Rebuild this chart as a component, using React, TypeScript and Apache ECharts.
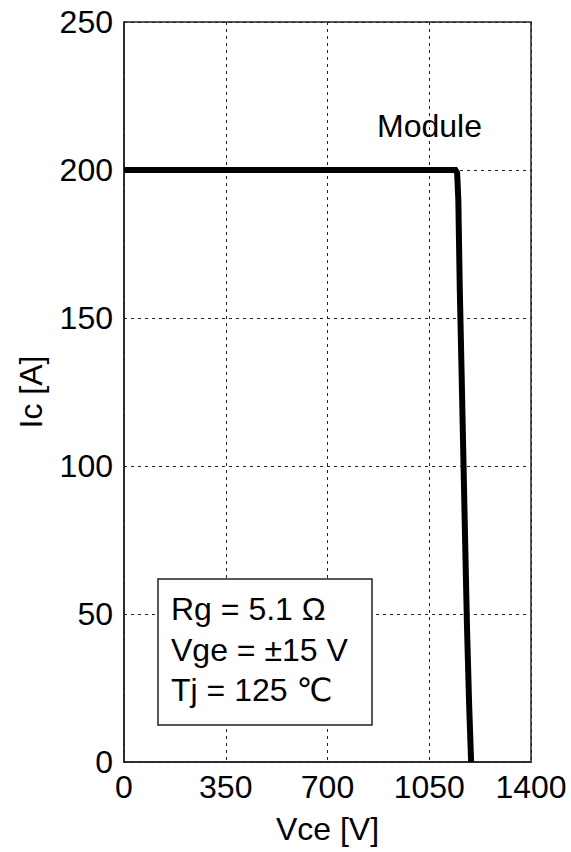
import React, { useEffect, useRef } from "react";
import * as echarts from "echarts";

const xTicks = [0, 350, 700, 1050, 1400];
const yTicks = [0, 50, 100, 150, 200, 250];
const vce = [0, 1140, 1146, 1150, 1155, 1162, 1168, 1174, 1180, 1187, 1194];
const ic = [200, 200, 199, 190, 160, 128, 100, 72, 45, 20, 0];
const seriesName = "Module";
const conditions = ["Rg = 5.1 Ω", "Vge = ±15 V", "Tj = 125 ℃"];
const xName = "Vce [V]";
const yName = "Ic [A]";

const FONT = "'Liberation Sans', Arial, 'DejaVu Sans', sans-serif";
const FS = 32;

export default function App() {
  const ref = useRef<HTMLDivElement>(null);
  useEffect(() => {
    if (!ref.current) return;
    const chart = echarts.init(ref.current, undefined, { renderer: "svg" });
    const data = vce.map((v, i) => [v, ic[i]]);
    chart.setOption({
      animation: false,
      backgroundColor: "#ffffff",
      textStyle: { fontFamily: FONT, color: "#000" },
      grid: {
        left: 124,
        right: 40,
        top: 22,
        bottom: 90,
        outerBoundsMode: "none",
        containLabel: false,
        show: true,
        borderColor: "#222",
        borderWidth: 1.5,
        backgroundColor: "transparent",
      },
      xAxis: {
        type: "value",
        min: xTicks[0],
        max: xTicks[xTicks.length - 1],
        interval: xTicks[1] - xTicks[0],
        name: xName,
        nameLocation: "middle",
        nameGap: 51,
        nameTextStyle: { fontSize: FS, color: "#000", fontFamily: FONT },
        axisLine: { show: true, lineStyle: { color: "#222", width: 1.5 } },
        axisTick: { show: false },
        axisLabel: {
          fontSize: FS,
          color: "#000",
          margin: 9,
          fontFamily: FONT,
          formatter: (v: number) => String(v),
        },
        splitLine: { show: true, lineStyle: { color: "#222", type: [3, 4], width: 1 } },
      },
      yAxis: {
        type: "value",
        min: yTicks[0],
        max: yTicks[yTicks.length - 1],
        interval: yTicks[1] - yTicks[0],
        name: yName,
        nameLocation: "middle",
        nameGap: 77,
        nameRotate: 90,
        nameTextStyle: { fontSize: FS, color: "#000", fontFamily: FONT },
        axisLine: { show: true, lineStyle: { color: "#222", width: 1.5 } },
        axisTick: { show: false },
        axisLabel: {
          fontSize: FS,
          color: "#000",
          margin: 11,
          fontFamily: FONT,
          formatter: (v: number) => String(v),
        },
        splitLine: { show: true, lineStyle: { color: "#222", type: [3, 4], width: 1 } },
      },
      series: [
        {
          name: seriesName,
          type: "line",
          data,
          showSymbol: false,
          symbol: "none",
          lineStyle: { color: "#000", width: 6, join: "miter" },
          z: 5,
        },
      ],
      graphic: [
        {
          type: "text",
          x: 377,
          y: 126,
          style: {
            text: seriesName,
            fontSize: FS,
            fill: "#000",
            fontFamily: FONT,
            verticalAlign: "middle",
          },
          z: 10,
        },
        {
          type: "rect",
          shape: { x: 158, y: 579, width: 214, height: 146 },
          style: { fill: "#fff", stroke: "#222", lineWidth: 1.5 },
          z: 10,
        },
        ...conditions.map((t, i) => ({
          type: "text",
          x: 171,
          y: 609 + i * 40.5,
          style: {
            text: t,
            fontSize: FS,
            fill: "#000",
            fontFamily: FONT,
            verticalAlign: "middle",
          },
          z: 11,
        })),
      ],
    });
    return () => chart.dispose();
  }, []);
  return (
    <div
      ref={ref}
      style={{ position: "fixed", left: 0, top: 0, width: 571, height: 852, background: "#fff" }}
    />
  );
}
